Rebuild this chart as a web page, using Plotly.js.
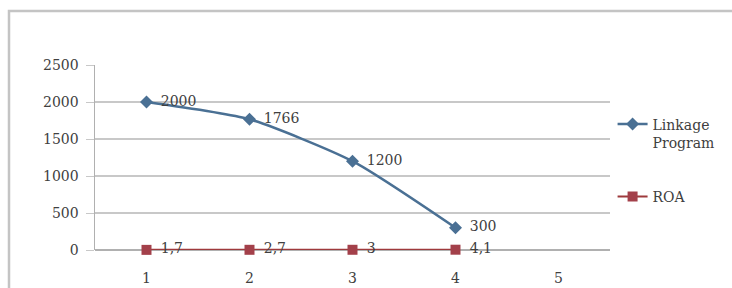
<!DOCTYPE html>
<html>
<head>
<meta charset="utf-8">
<script src="https://cdn.plot.ly/plotly-3.0.1.min.js"></script>
<style>
html,body{margin:0;padding:0;background:#fff;}
#chart{width:732px;height:288px;}
</style>
</head>
<body>
<div id="chart"></div>
<script>
const categories = [1, 2, 3, 4];
const tickLabels = ['1', '2', '3', '4', '5'];
const tickPositions = [1, 2, 3, 4, 5];
const linkageValues = [2000, 1766, 1200, 300];
const linkageLabels = ['2000', '1766', '1200', '300'];
const roaValues = [1.7, 2.7, 3, 4.1];
const roaLabels = ['1,7', '2,7', '3', '4,1'];
const yTicks = [0, 500, 1000, 1500, 2000, 2500];

const serif = 'DejaVu Serif';
const textCol = '#404040';
const pad = s => '\u2002' + s;

const traces = [
  {
    x: categories, y: linkageValues, name: 'Linkage<br>Program',
    type: 'scatter', mode: 'lines+markers+text',
    text: linkageLabels.map(pad), textposition: 'middle right',
    textfont: {family: serif, size: 14, color: textCol},
    line: {color: '#4a7094', width: 2.5, shape: 'spline', smoothing: 0.6},
    marker: {symbol: 'diamond', size: 10, color: '#4a7094'},
    legendgroup: 'a', cliponaxis: false
  },
  {
    x: categories, y: roaValues, name: 'ROA',
    type: 'scatter', mode: 'lines+markers+text',
    text: roaLabels.map(pad), textposition: 'middle right',
    textfont: {family: serif, size: 14, color: textCol},
    line: {color: '#9e3a3c', width: 2},
    marker: {symbol: 'square', size: 10, color: '#a3404a'},
    legendgroup: 'b', cliponaxis: false
  }
];

const layout = {
  width: 732, height: 288,
  margin: {l: 95, r: 122, t: 65, b: 38, autoexpand: false},
  paper_bgcolor: '#ffffff', plot_bgcolor: '#ffffff',
  font: {family: serif, size: 14, color: textCol},
  showlegend: true,
  legend: {
    x: 1.005, xanchor: 'left', y: 0.765, yanchor: 'top',
    font: {family: serif, size: 14, color: textCol},
    traceorder: 'grouped', tracegroupgap: 33, valign: 'top',
    bgcolor: 'rgba(0,0,0,0)', itemwidth: 30
  },
  xaxis: {
    range: [0.5, 5.5], tickvals: tickPositions, ticktext: tickLabels,
    showgrid: false, zeroline: false, showline: false,
    ticks: 'outside', ticklen: 15, tickcolor: 'rgba(0,0,0,0)',
    tickfont: {family: serif, size: 14, color: textCol},
    fixedrange: true
  },
  yaxis: {
    range: [0, 2500], tickvals: yTicks,
    showgrid: true, gridcolor: '#c8c8c8', gridwidth: 1.5,
    zeroline: true, zerolinecolor: '#b0b0b0', zerolinewidth: 1.5,
    showline: true, linecolor: '#b0b0b0', linewidth: 1.5,
    ticks: 'outside', ticklen: 8, tickcolor: '#c8c8c8',
    ticklabelstandoff: 4,
    tickfont: {family: serif, size: 14, color: textCol},
    fixedrange: true
  },
  shapes: [
    {type: 'rect', xref: 'paper', yref: 'paper',
     x0: (9 - 95) / 515, x1: (760 - 95) / 515,
     y0: (250 - 320) / 185, y1: (250 - 11) / 185,
     line: {color: '#c4c4c4', width: 2.5}, layer: 'below'}
  ]
};

Plotly.newPlot('chart', traces, layout, {displayModeBar: false, staticPlot: true});
</script>
</body>
</html>
